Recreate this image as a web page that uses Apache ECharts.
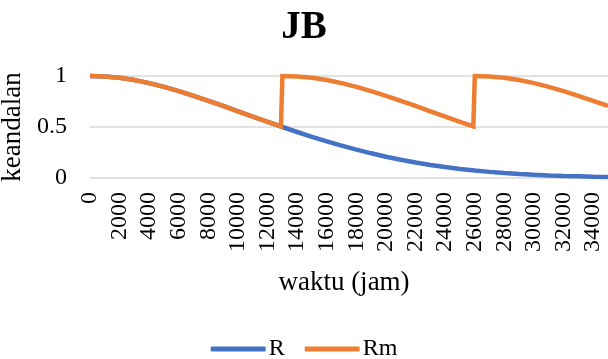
<!DOCTYPE html>
<html>
<head>
<meta charset="utf-8">
<script src="https://cdn.jsdelivr.net/npm/echarts@6/dist/echarts.min.js"></script>
<style>
  html, body { margin: 0; padding: 0; background: #ffffff; }
  #chart { width: 608px; height: 359px; }
</style>
</head>
<body>
<div id="chart"></div>
<script>
// Reliability without maintenance (R), sampled every 1000 hours
const hoursR = [0, 1000, 2000, 3000, 4000, 5000, 6000, 7000, 8000, 9000,
  10000, 11000, 12000, 13000, 14000, 15000, 16000, 17000, 18000, 19000,
  20000, 21000, 22000, 23000, 24000, 25000, 26000, 27000, 28000, 29000,
  30000, 31000, 32000, 33000, 34000, 35000];
const valuesR = [1.000, 0.996, 0.983, 0.960, 0.930, 0.894, 0.852, 0.806, 0.757, 0.706,
  0.653, 0.601, 0.550, 0.500, 0.451, 0.404, 0.359, 0.317, 0.278, 0.242,
  0.209, 0.179, 0.152, 0.128, 0.107, 0.089, 0.073, 0.060, 0.049, 0.039,
  0.031, 0.025, 0.020, 0.016, 0.012, 0.010];

// Reliability with preventive maintenance (Rm), restored at 13000 h and 26000 h
const hoursRm = [0, 1000, 2000, 3000, 4000, 5000, 6000, 7000, 8000, 9000,
  10000, 11000, 12000, 12900, 13000, 14000, 15000, 16000, 17000, 18000,
  19000, 20000, 21000, 22000, 23000, 24000, 25000, 25900, 26000, 27000,
  28000, 29000, 30000, 31000, 32000, 33000, 34000, 35000];
const valuesRm = [1.000, 0.996, 0.983, 0.960, 0.930, 0.894, 0.852, 0.806, 0.757, 0.706,
  0.653, 0.601, 0.550, 0.505, 1.000, 0.996, 0.983, 0.960, 0.930, 0.894,
  0.852, 0.806, 0.757, 0.706, 0.653, 0.601, 0.550, 0.505, 1.000, 0.996,
  0.983, 0.960, 0.930, 0.894, 0.852, 0.806, 0.757, 0.706];

const seriesNames = ['R', 'Rm'];
const seriesColors = ['#4472C4', '#ED7D31'];

const serif = '"Liberation Serif", "Times New Roman", serif';

const chart = echarts.init(document.getElementById('chart'), null, { renderer: 'canvas' });

chart.setOption({
  animation: false,
  backgroundColor: '#ffffff',
  title: {
    text: 'JB',
    left: 'center',
    top: 3,
    textStyle: { fontFamily: serif, fontWeight: 'bold', fontSize: 39, color: '#000000' }
  },
  legend: {
    data: seriesNames,
    left: 'center',
    top: 332,
    icon: 'roundRect',
    itemWidth: 55,
    itemHeight: 5,
    itemGap: 20,
    textStyle: { fontFamily: serif, fontSize: 24, color: '#000000', padding: [0, 0, 0, -2] }
  },
  grid: {
    left: 90, right: 0, top: 76, bottom: 181,
    containLabel: false,
    outerBoundsMode: 'none'
  },
  xAxis: {
    type: 'value',
    min: 0,
    max: 35000,
    interval: 2000,
    name: 'waktu (jam)',
    nameLocation: 'middle',
    nameGap: 91,
    nameTextStyle: { fontFamily: serif, fontSize: 27, color: '#000000', padding: [0, 10, 0, 0] },
    axisLine: { show: false },
    axisTick: { show: false },
    splitLine: { show: false },
    axisLabel: {
      rotate: 90,
      margin: 14,
      showMaxLabel: false,
      fontFamily: serif,
      fontSize: 24,
      color: '#000000',
      formatter: (v) => String(v)
    }
  },
  yAxis: {
    type: 'value',
    min: 0,
    max: 1,
    interval: 0.5,
    name: 'keandalan',
    nameLocation: 'middle',
    nameGap: 63,
    nameTextStyle: { fontFamily: serif, fontSize: 27, color: '#000000' },
    axisLine: { show: false },
    axisTick: { show: false },
    splitLine: { lineStyle: { color: '#D9D9D9', width: 1.5 } },
    axisLabel: {
      margin: 23,
      fontFamily: serif,
      fontSize: 24,
      color: '#000000'
    }
  },
  series: [
    {
      name: seriesNames[0],
      type: 'line',
      data: hoursR.map((h, i) => [h, valuesR[i]]),
      showSymbol: false,
      symbol: 'none',
      lineStyle: { color: seriesColors[0], width: 4.5 },
      itemStyle: { color: seriesColors[0] },
      clip: false
    },
    {
      name: seriesNames[1],
      type: 'line',
      data: hoursRm.map((h, i) => [h, valuesRm[i]]),
      showSymbol: false,
      symbol: 'none',
      lineStyle: { color: seriesColors[1], width: 4.5, join: 'miter' },
      itemStyle: { color: seriesColors[1] },
      clip: false
    }
  ]
});
</script>
</body>
</html>
